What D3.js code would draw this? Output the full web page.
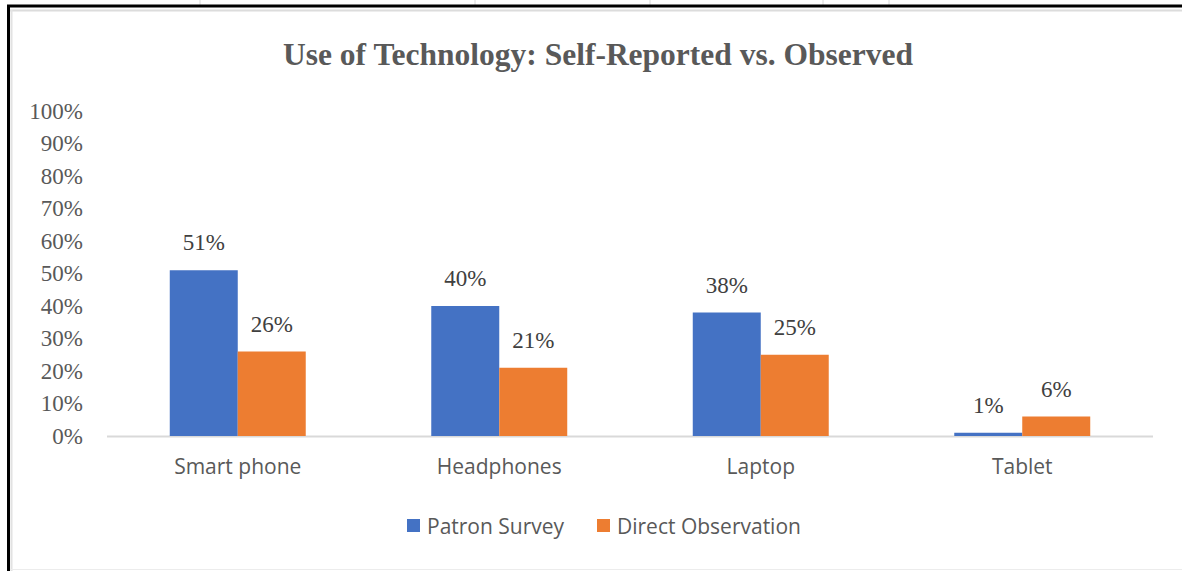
<!DOCTYPE html>
<html>
<head>
    <script src="https://cdn.jsdelivr.net/npm/d3@7"></script>
    <style>
        body { margin: 0; background: #fff; }
    </style>
</head>
<body>
<script type="text/javascript">
    // chart data
    let categories = ["Smart phone", "Headphones", "Laptop", "Tablet"];
    let seriesNames = ["Patron Survey", "Direct Observation"];
    let patronSurvey = [51, 40, 38, 1];
    let directObservation = [26, 21, 25, 6];
    let yTicks = [0, 10, 20, 30, 40, 50, 60, 70, 80, 90, 100];
    let colors = ["#4472C4", "#ED7D31"];

    let W = 1182, H = 571;
    let svg = d3.select("body").append("svg").attr("width", W).attr("height", H);

    // spreadsheet backdrop: faint cell lines above frame
    svg.selectAll("line.cell")
        .data([200, 475, 650, 823, 889])
        .enter().append("line")
        .attr("x1", d => d).attr("x2", d => d)
        .attr("y1", 0).attr("y2", 6)
        .attr("stroke", "#d8d8d8").attr("stroke-width", 1);

    // frame
    svg.append("line").attr("x1", 7).attr("x2", W).attr("y1", 6).attr("y2", 6)
        .attr("stroke", "#000").attr("stroke-width", 3);
    svg.append("line").attr("x1", 8.5).attr("x2", 8.5).attr("y1", 5).attr("y2", H)
        .attr("stroke", "#000").attr("stroke-width", 3);
    svg.append("line").attr("x1", 10).attr("x2", W).attr("y1", 10.5).attr("y2", 10.5)
        .attr("stroke", "#dcdcdc").attr("stroke-width", 2);
    svg.append("line").attr("x1", 11.5).attr("x2", 11.5).attr("y1", 10).attr("y2", H)
        .attr("stroke", "#e2e2e2").attr("stroke-width", 2);
    svg.append("line").attr("x1", 10).attr("x2", W).attr("y1", 569.5).attr("y2", 569.5)
        .attr("stroke", "#ececec").attr("stroke-width", 1);

    // title
    svg.append("text")
        .attr("x", 598).attr("y", 65)
        .attr("text-anchor", "middle")
        .style("font-family", "'Liberation Serif', 'Times New Roman', serif")
        .style("font-weight", "bold")
        .style("font-size", "31.5px")
        .style("fill", "#595959")
        .text("Use of Technology: Self-Reported vs. Observed");

    let x0 = d3.scaleBand().domain(categories).range([107, 1153]).paddingInner(0.48).paddingOuter(0.24);
    let x1 = d3.scaleBand().domain(seriesNames).range([0, x0.bandwidth()]);
    let y = d3.scaleLinear().domain([0, 100]).range([436, 111]);

    // y axis
    let yAxis = svg.append("g")
        .attr("transform", "translate(89,0)")
        .call(d3.axisLeft(y).tickValues(yTicks).tickSize(0).tickPadding(6).tickFormat(d => d + "%"));
    yAxis.select(".domain").remove();
    yAxis.selectAll("text")
        .style("font-family", "'Liberation Serif', 'Times New Roman', serif")
        .style("font-size", "23px")
        .style("fill", "#595959");

    // baseline
    svg.append("line").attr("x1", 107).attr("x2", 1153).attr("y1", 436.5).attr("y2", 436.5)
        .attr("stroke", "#d9d9d9").attr("stroke-width", 2);

    // x axis labels
    let xAxis = svg.append("g")
        .attr("transform", "translate(0,437)")
        .call(d3.axisBottom(x0).tickSize(0).tickPadding(22));
    xAxis.select(".domain").remove();
    xAxis.selectAll("text")
        .style("font-family", "'Open Sans', 'Noto Sans', sans-serif")
        .style("font-size", "21px")
        .style("fill", "#595959");

    let rows = categories.map((c, i) => ({cat: c, vals: [patronSurvey[i], directObservation[i]]}));

    let groups = svg.selectAll("g.grp")
        .data(rows)
        .enter().append("g")
        .attr("class", "grp")
        .attr("transform", d => "translate(" + x0(d.cat) + ",0)");

    let cells = groups.selectAll("g.cell")
        .data(d => d.vals.map((v, j) => ({name: seriesNames[j], v: v, j: j})))
        .enter().append("g");

    cells.append("rect")
        .attr("x", d => x1(d.name))
        .attr("y", d => y(d.v))
        .attr("width", x1.bandwidth())
        .attr("height", d => y(0) - y(d.v))
        .style("fill", d => colors[d.j]);

    cells.append("text")
        .attr("x", d => x1(d.name) + x1.bandwidth() / 2)
        .attr("y", d => y(d.v) - 20)
        .attr("text-anchor", "middle")
        .style("font-family", "'Liberation Serif', 'Times New Roman', serif")
        .style("font-size", "23px")
        .style("fill", "#404040")
        .text(d => d.v + "%");

    // legend
    let legendX = [407, 597];
    let legend = svg.selectAll("g.leg")
        .data(seriesNames)
        .enter().append("g")
        .attr("transform", (d, i) => "translate(" + legendX[i] + ",519)");
    legend.append("rect")
        .attr("width", 13).attr("height", 13)
        .style("fill", (d, i) => colors[i]);
    legend.append("text")
        .attr("x", 20).attr("y", 15)
        .style("font-family", "'Open Sans', 'Noto Sans', sans-serif")
        .style("font-size", "21px")
        .style("fill", "#595959")
        .text(d => d);
</script>
</body>
</html>
